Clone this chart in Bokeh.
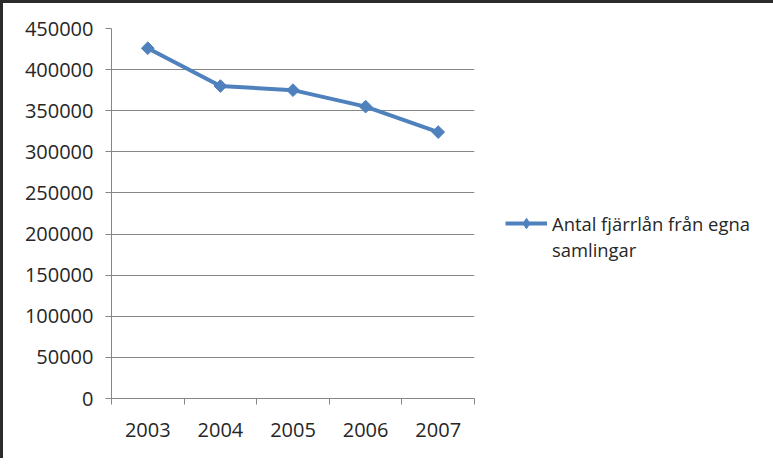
from bokeh.plotting import figure
from bokeh.models import Range1d, FixedTicker, BasicTickFormatter, Legend, LegendItem
from bokeh.embed import file_html
from bokeh.resources import INLINE

years = ["2003", "2004", "2005", "2006", "2007"]
loans = [426000, 380000, 375000, 355000, 324000]
y_ticks = [0, 50000, 100000, 150000, 200000, 250000, 300000, 350000, 400000, 450000]
series_line1 = "Antal fjärrlån från egna"
series_line2 = "samlingar"

FONT = "Open Sans"
TEXT = "#262626"
GRID = "#868686"
BLUE = "#4F81BD"

xs = list(range(len(years)))
bounds = [i - 0.5 for i in range(len(years) + 1)]

p = figure(frame_width=363, frame_height=370, output_backend="svg", toolbar_location=None,
           x_range=Range1d(-0.5, len(years) - 0.5), y_range=Range1d(0, 450000),
           min_border_left=108, min_border_right=0, min_border_top=25,
           min_border_bottom=60)
p.styles = {"border-left": "3px solid #2b2b2b", "border-top": "3px solid #2b2b2b"}
p.outline_line_color = None
p.background_fill_color = "white"
p.border_fill_color = "white"

p.xgrid.visible = False
yt = FixedTicker(ticks=y_ticks)
p.yaxis.ticker = yt
p.ygrid.ticker = yt
p.ygrid.grid_line_color = GRID
p.ygrid.grid_line_width = 1

p.yaxis.formatter = BasicTickFormatter(use_scientific=False)
p.yaxis.axis_line_color = GRID
p.yaxis.major_tick_line_color = GRID
p.yaxis.major_tick_in = 0
p.yaxis.major_tick_out = 6
p.yaxis.minor_tick_line_color = None
p.yaxis.major_label_standoff = 12
p.yaxis.major_label_text_font = FONT
p.yaxis.major_label_text_font_size = "20px"
p.yaxis.major_label_text_color = TEXT

p.xaxis.ticker = FixedTicker(ticks=xs, minor_ticks=bounds)
p.xaxis.major_label_overrides = {i: y for i, y in zip(xs, years)}
p.xaxis.axis_line_color = GRID
p.xaxis.major_tick_line_color = None
p.xaxis.minor_tick_line_color = GRID
p.xaxis.minor_tick_in = 0
p.xaxis.minor_tick_out = 6
p.xaxis.major_label_standoff = 18
p.xaxis.major_label_text_font = FONT
p.xaxis.major_label_text_font_size = "20px"
p.xaxis.major_label_text_color = TEXT

ln = p.line(xs, loans, line_color=BLUE, line_width=4)
p.scatter(xs, loans, marker="square", angle=0.785398, size=9,
          fill_color=BLUE, line_color=BLUE)
# legend-only glyphs (hidden in the plot)
lg_mk = p.scatter(xs, loans, marker="diamond", size=13, fill_color=BLUE,
                  line_color=BLUE, visible=False)
lg_blank = p.line(xs, loans, line_alpha=0, visible=False)

legend = Legend(items=[LegendItem(label=series_line1, renderers=[ln, lg_mk]),
                       LegendItem(label=series_line2, renderers=[lg_blank])],
                location=(31, 136), padding=0, margin=0, spacing=0,
                glyph_width=42, glyph_height=26, label_standoff=5,
                border_line_color=None, background_fill_alpha=0,
                inactive_fill_alpha=0,
                label_text_font=FONT, label_text_font_size="18.4px",
                label_text_color=TEXT, label_height=23)
p.add_layout(legend, "right")

open("out.html", "w").write(file_html(p, INLINE))
